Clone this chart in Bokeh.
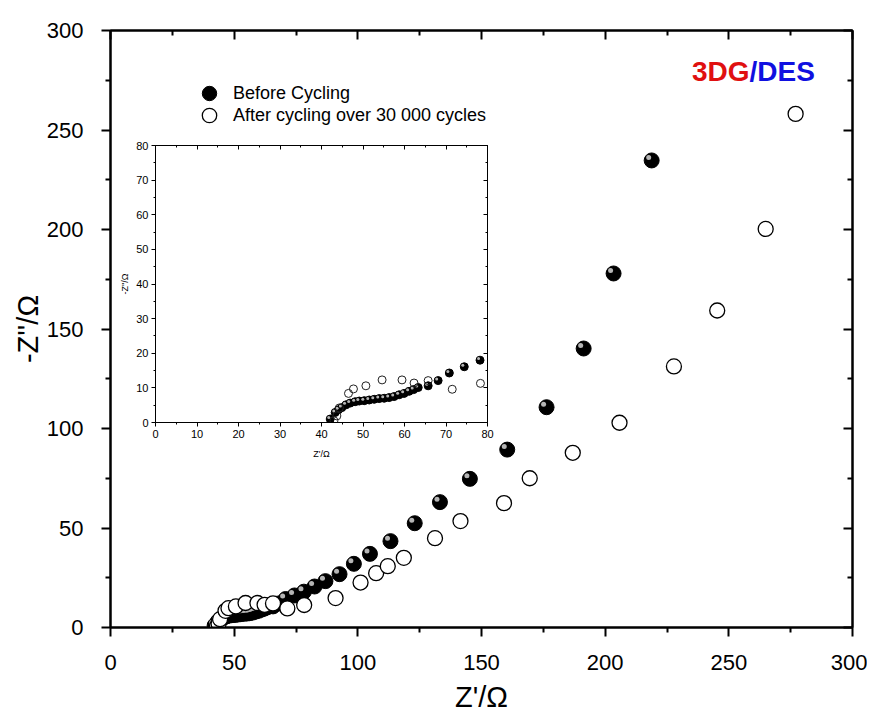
from bokeh.plotting import figure
from bokeh.models import (ColumnDataSource, Legend, LegendItem, Label, LinearAxis,
                          Range1d, FixedTicker, CustomJSTickFormatter)
from bokeh.transform import dodge
from bokeh.layouts import column
from bokeh.embed import file_html
from bokeh.resources import INLINE

# ---------------- data ----------------
before_x = [42.1, 43.3, 44.1, 44.9, 45.9, 46.9, 48.1, 49.1, 50.3, 51.5, 52.7, 53.9, 55.1,
            56.3, 57.5, 58.7, 59.9, 61.1, 62.2, 63.3, 65.7, 68.1, 70.8, 74.4, 78.2, 82.5,
            86.9, 92.6, 98.4, 104.9, 113.2, 123.0, 133.2, 145.3, 160.4, 176.3, 191.3,
            203.4, 218.8]
before_y = [1.0, 2.9, 3.7, 4.3, 5.1, 5.6, 6.0, 6.2, 6.3, 6.5, 6.7, 6.9, 7.0,
            7.2, 7.5, 8.0, 8.4, 9.0, 9.5, 10.1, 10.6, 12.1, 14.3, 16.1, 18.0, 20.6,
            23.3, 26.8, 32.0, 37.0, 43.4, 52.4, 63.0, 74.7, 89.4, 110.7, 140.2,
            177.9, 234.7]
after_x = [43.0, 43.7, 44.3, 46.5, 47.7, 50.7, 54.6, 59.4, 62.3, 65.7, 71.5, 78.3, 91.0,
           101.1, 107.4, 112.1, 118.6, 131.2, 141.5, 159.1, 169.5, 186.9, 205.8, 227.8,
           245.3, 264.9, 277.0]
after_y = [0.5, 1.9, 4.2, 8.4, 9.7, 10.6, 12.3, 12.3, 11.4, 12.1, 9.6, 11.3, 14.8,
           22.6, 27.3, 30.8, 35.0, 44.9, 53.5, 62.5, 75.0, 87.8, 102.9, 131.2,
           159.3, 200.3, 258.1]

main_ticks = [0, 50, 100, 150, 200, 250, 300]
main_minor = [25, 75, 125, 175, 225, 275]
inset_ticks = [0, 10, 20, 30, 40, 50, 60, 70, 80]
inset_minor = [5, 15, 25, 35, 45, 55, 65, 75]

series_names = ["Before Cycling", "After cycling over 30 000 cycles"]
title_parts = ["3DG", "/DES"]
x_title = "Z'/Ω"
y_title = "-Z''/Ω"

FONT = "Liberation Sans"

src_b = ColumnDataSource(dict(x=before_x, y=before_y))
src_a = ColumnDataSource(dict(x=after_x, y=after_y))

# main frame borders (page px)
BL, BR, BT, BB = 110, 15, 30, 94

# ---------------- main figure ----------------
p = figure(width=BL + 742 + BR, height=BT + 597 + BB,
           x_range=Range1d(0, 300), y_range=Range1d(0, 300),
           output_backend="svg", toolbar_location=None,
           min_border_left=BL, min_border_right=BR, min_border_top=BT, min_border_bottom=BB,
           background_fill_color="white", border_fill_color="white")
p.xgrid.visible = False
p.ygrid.visible = False
p.outline_line_color = "black"
p.outline_line_width = 2

for ax, tl in ((p.xaxis[0], x_title), (p.yaxis[0], y_title)):
    ax.ticker = FixedTicker(ticks=main_ticks, minor_ticks=main_minor)
    ax.axis_label = tl
    ax.axis_label_text_font = FONT
    ax.axis_label_text_font_style = "normal"
    ax.axis_label_text_font_size = "29px"
    ax.axis_label_text_color = "black"
    ax.major_label_text_font = FONT
    ax.major_label_text_font_size = "22px"
    ax.major_label_text_color = "black"
    ax.axis_line_width = 2
    ax.major_tick_line_width = 2
    ax.minor_tick_line_width = 2
    ax.major_tick_out = 9
    ax.major_tick_in = 0
    ax.minor_tick_out = 5
    ax.minor_tick_in = 0
p.xaxis[0].major_label_standoff = 18
p.xaxis[0].axis_label_standoff = 8
p.yaxis[0].major_label_standoff = 18
p.yaxis[0].axis_label_standoff = 0

blank = CustomJSTickFormatter(code="return ''")
for loc in ("right", "above"):
    ax = LinearAxis(ticker=FixedTicker(ticks=main_ticks, minor_ticks=main_minor),
                    formatter=blank, major_tick_in=9, major_tick_out=0,
                    minor_tick_in=5, minor_tick_out=0, axis_line_width=2,
                    major_tick_line_width=2, minor_tick_line_width=2,
                    major_label_standoff=0)
    p.add_layout(ax, loc)

r_b = p.scatter("x", "y", source=src_b, size=15, fill_color="black", line_color="black")
p.scatter(dodge("x", -1.2), dodge("y", 1.5), source=src_b, size=5,
          fill_color="#b5b5b5", line_color=None)
r_a = p.scatter("x", "y", source=src_a, size=15, fill_color="white",
                line_color="black", line_width=1.3)

leg_common = dict(orientation="vertical", glyph_width=36, glyph_height=36, padding=0,
                  margin=0, label_standoff=6, label_text_font=FONT,
                  label_text_font_size="18px", label_text_color="black",
                  border_line_color=None, background_fill_alpha=0)
p.add_layout(Legend(items=[LegendItem(label=series_names[0], renderers=[r_b])],
                    location=(81, 516), **leg_common), "center")
p.add_layout(Legend(items=[LegendItem(label=series_names[1], renderers=[r_a])],
                    location=(81, 494), **leg_common), "center")

p.add_layout(Label(x=639, y=556, x_units="screen", y_units="screen", text=title_parts[0],
                   text_align="right", text_baseline="alphabetic", text_font=FONT,
                   text_font_style="bold", text_font_size="28px", text_color="#e01010"))
p.add_layout(Label(x=639, y=556, x_units="screen", y_units="screen", text=title_parts[1],
                   text_align="left", text_baseline="alphabetic", text_font=FONT,
                   text_font_style="bold", text_font_size="28px", text_color="#1010e0"))

# ---------------- inset ----------------
# column aligns left/right borders with the main figure, so the inset uses the same ones
IW, IH = BL + 332 + BR, 10 + 277 + 40
ins = figure(width=IW, height=IH, x_range=Range1d(0, 80), y_range=Range1d(0, 80),
             output_backend="svg", toolbar_location=None,
             min_border_left=BL, min_border_right=BR, min_border_top=10, min_border_bottom=40,
             background_fill_color=None, border_fill_color=None)
ins.xgrid.visible = False
ins.ygrid.visible = False
ins.outline_line_color = "black"
ins.outline_line_width = 1

for ax, tl in ((ins.xaxis[0], x_title), (ins.yaxis[0], y_title)):
    ax.ticker = FixedTicker(ticks=inset_ticks, minor_ticks=inset_minor)
    ax.axis_label = tl
    ax.axis_label_text_font = FONT
    ax.axis_label_text_font_style = "normal"
    ax.axis_label_text_font_size = "9px"
    ax.axis_label_text_color = "black"
    ax.major_label_text_font = FONT
    ax.major_label_text_font_size = "11px"
    ax.major_label_text_color = "black"
    ax.axis_line_width = 1
    ax.major_tick_out = 4
    ax.major_tick_in = 0
    ax.minor_tick_out = 2
    ax.minor_tick_in = 0
    ax.major_label_standoff = 3
ins.xaxis[0].axis_label_standoff = 8
ins.yaxis[0].axis_label_standoff = 3
for loc in ("right", "above"):
    ax = LinearAxis(ticker=FixedTicker(ticks=inset_ticks, minor_ticks=inset_minor),
                    formatter=blank, major_tick_in=4, major_tick_out=0,
                    minor_tick_in=2, minor_tick_out=0, axis_line_width=1,
                    major_label_standoff=0)
    ins.add_layout(ax, loc)

ins.scatter("x", "y", source=src_b, size=8, fill_color="black", line_color="black")
ins.scatter(dodge("x", -0.35), dodge("y", 0.45), source=src_b, size=3,
            fill_color="#b5b5b5", line_color=None)
ins.scatter("x", "y", source=src_a, size=8, fill_color=None, line_color="#222222",
            line_width=1)

main_h = BT + 597 + BB
ins_top, ins_left = 145 - 10, 155 - BL
ins.margin = (ins_top - main_h, 0, main_h - ins_top - IH, ins_left)

layout = column(p, ins, spacing=0)
open("out.html", "w").write(file_html(layout, INLINE))
